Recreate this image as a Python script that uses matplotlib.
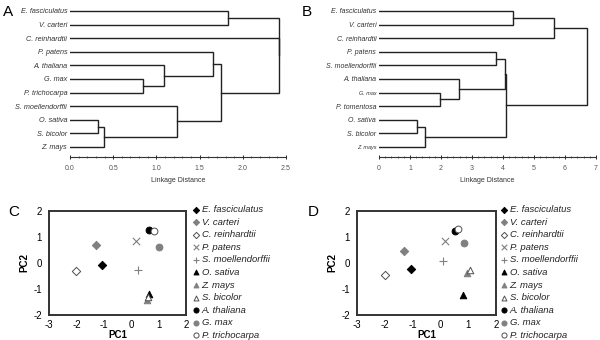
import matplotlib.pyplot as plt
from matplotlib.ticker import MultipleLocator

plt.rcParams['font.family'] = ['Liberation Sans', 'DejaVu Sans']
plt.rcParams['axes.unicode_minus'] = False

# dendrogram A
leaves_a = ["E. fasciculatus", "V. carteri", "C. reinhardtii", "P. patens", "A. thaliana",
            "G. max", "P. trichocarpa", "S. moellendorffii", "O. sativa", "S. bicolor", "Z. mays"]
# merges: (child, child, height); children are leaf names or "cN" for the N-th merge
merges_a = [("E. fasciculatus", "V. carteri", 1.83),
            ("G. max", "P. trichocarpa", 0.84),
            ("A. thaliana", "c1", 1.09),
            ("P. patens", "c2", 1.66),
            ("O. sativa", "S. bicolor", 0.32),
            ("c4", "Z. mays", 0.39),
            ("S. moellendorffii", "c5", 1.24),
            ("c3", "c6", 1.75),
            ("c0", "c7", 2.42),
            ("C. reinhardtii", "c8", 2.42)]

# dendrogram B
leaves_b = ["E. fasciculatus", "V. carteri", "C. reinhardtii", "P. patens", "S. moellendorffii",
            "A. thaliana", "G. max", "P. tomentosa", "O. sativa", "S. bicolor", "Z. mays"]
merges_b = [("E. fasciculatus", "V. carteri", 4.33),
            ("c0", "C. reinhardtii", 5.65),
            ("P. patens", "S. moellendorffii", 3.77),
            ("G. max", "P. tomentosa", 1.97),
            ("A. thaliana", "c3", 2.58),
            ("c2", "c4", 4.05),
            ("O. sativa", "S. bicolor", 1.22),
            ("c6", "Z. mays", 1.49),
            ("c5", "c7", 4.10),
            ("c1", "c8", 6.70)]

# PCA scatter
species = ["E. fasciculatus", "V. carteri", "C. reinhardtii", "P. patens", "S. moellendorffii",
           "O. sativa", "Z. mays", "S. bicolor", "A. thaliana", "G. max", "P. trichocarpa"]
pc1_c = [-1.07, -1.28, -2.0, 0.18, 0.25, 0.66, 0.58, 0.62, 0.64, 1.02, 0.84]
pc2_c = [-0.08, 0.71, -0.32, 0.86, -0.28, -1.2, -1.42, -1.3, 1.28, 0.63, 1.24]
pc1_d = [-1.07, -1.31, -2.01, 0.18, 0.09, 0.83, 0.95, 1.07, 0.53, 0.86, 0.65]
pc2_d = [-0.24, 0.47, -0.45, 0.85, 0.06, -1.23, -0.37, -0.27, 1.23, 0.76, 1.32]

BLK = "black"
GRY = "#808080"
OPEN = "#505050"
styles = [("D", BLK, BLK, 18), ("D", GRY, GRY, 18), ("D", "white", OPEN, 18),
          ("x", GRY, GRY, 28), ("+", GRY, GRY, 30),
          ("^", BLK, BLK, 22), ("^", GRY, GRY, 22), ("^", "white", OPEN, 22),
          ("o", BLK, BLK, 24), ("o", GRY, GRY, 24), ("o", "white", OPEN, 24)]


def draw_dendro(ax, leaves, merges, xmax, major, minor, size, small=()):
    pos = {name: i for i, name in enumerate(leaves)}
    h = {name: 0.0 for name in leaves}
    for k, (a, b, d) in enumerate(merges):
        ya, yb = pos[a], pos[b]
        ax.plot([h[a], d, d, h[b]], [ya, ya, yb, yb], color="#222222", lw=1.0,
                solid_joinstyle="miter")
        pos["c%d" % k] = (ya + yb) / 2.0
        h["c%d" % k] = d
    ax.set_xlim(0, xmax)
    ax.set_ylim(10.74, -0.44)
    ax.set_yticks(range(len(leaves)))
    ax.set_yticklabels(leaves, fontstyle="italic", color="#333333")
    for lab in ax.get_yticklabels():
        lab.set_fontsize(4 if lab.get_text() in small else size)
    ax.tick_params(axis="y", length=0, pad=2)
    ax.xaxis.set_major_locator(MultipleLocator(major))
    ax.xaxis.set_minor_locator(MultipleLocator(minor))
    ax.tick_params(axis="x", which="major", direction="inout", length=3, width=0.6,
                   labelsize=5, labelcolor="#555555", pad=4)
    ax.tick_params(axis="x", which="minor", direction="inout", length=1.5, width=0.4)
    for s in ["top", "right", "left"]:
        ax.spines[s].set_visible(False)
    ax.spines["bottom"].set_linewidth(0.8)
    ax.spines["bottom"].set_color("#333333")
    ax.set_xlabel("Linkage Distance", fontsize=5, color="#333333", labelpad=4)


def draw_pca(ax, xs, ys, leg_x):
    for name, x, y, (m, fc, ec, s) in zip(species, xs, ys, styles):
        if m in ("x", "+"):
            ax.scatter([x], [y], marker=m, c=fc, s=s, linewidths=0.8, label=name, zorder=3)
        else:
            ax.scatter([x], [y], marker=m, facecolors=fc, edgecolors=ec, s=s,
                       linewidths=0.7, label=name, zorder=3)
    ax.set_xlim(-3, 2)
    ax.set_ylim(-2, 2)
    ax.set_xticks(range(-3, 3))
    ax.set_yticks(range(-2, 3))
    ax.tick_params(length=0, labelsize=7)
    ax.tick_params(axis="x", pad=3.5)
    ax.tick_params(axis="y", pad=5)
    for s in ax.spines.values():
        s.set_linewidth(1.4)
        s.set_color("#333333")
    ax.set_xlabel("PC1", fontsize=7, fontweight="bold", labelpad=0)
    ax.set_ylabel("PC2", fontsize=7, fontweight="bold", labelpad=3)
    leg = ax.legend(loc="upper left", bbox_to_anchor=(leg_x, 1 - 205 / 340),
                    bbox_transform=fig.transFigure, frameon=False, fontsize=6.8,
                    handlelength=0.5, handletextpad=0.3, labelspacing=0.38,
                    borderpad=0, borderaxespad=0, scatterpoints=1, markerscale=0.75)
    for t in leg.get_texts():
        t.set_fontstyle("italic")
        t.set_color("#222222")


fig = plt.figure(figsize=(6, 3.4), dpi=100)

ax_a = fig.add_axes([70 / 600, 1 - 157 / 340, 216 / 600, 152 / 340])
draw_dendro(ax_a, leaves_a, merges_a, 2.5, 0.5, 0.1, 5.2)

ax_b = fig.add_axes([379 / 600, 1 - 157 / 340, 217 / 600, 152 / 340])
draw_dendro(ax_b, leaves_b, merges_b, 7, 1, 0.2, 5, small=("G. max", "Z. mays"))

ax_c = fig.add_axes([49 / 600, 1 - 315 / 340, 137 / 600, 104 / 340])
draw_pca(ax_c, pc1_c, pc2_c, 194 / 600)

ax_d = fig.add_axes([357 / 600, 1 - 315 / 340, 139 / 600, 104 / 340])
draw_pca(ax_d, pc1_d, pc2_d, 502 / 600)

for lbl, x, y in [("A", 3, 12), ("B", 302, 12), ("C", 8, 212), ("D", 308, 212)]:
    fig.text(x / 600, 1 - y / 340, lbl, fontsize=11, va="center", ha="left")

fig.savefig("out.png", dpi=100)
